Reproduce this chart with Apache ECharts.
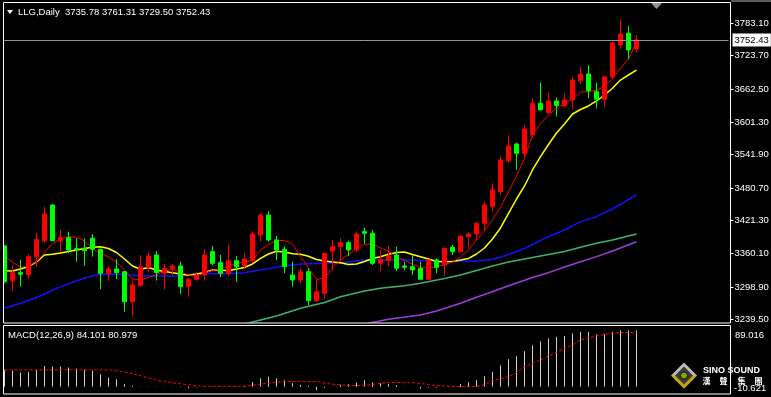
<!DOCTYPE html>
<html>
<head>
<meta charset="utf-8">
<script src="https://cdn.jsdelivr.net/npm/echarts@6/dist/echarts.min.js"></script>
<style>
html, body { margin: 0; padding: 0; background: #000; }
#chart { width: 771px; height: 397px; }
</style>
</head>
<body>
<div id="chart"></div>
<script>
var symbolName = 'LLG,Daily';

// daily bars, oldest first
var opens = [3374.2, 3310.4, 3325.1, 3320.9, 3354.5, 3383.8, 3449.4, 3383.3, 3389.4, 3369.1,
  3369.9, 3388.3, 3368.1, 3324.0, 3331.9, 3326.9, 3271.8, 3301.2, 3335.0, 3357.6,
  3324.0, 3333.2, 3337.4, 3299.4, 3312.9, 3320.9, 3363.6, 3343.5, 3324.0, 3347.1,
  3337.4, 3347.1, 3394.3, 3431.0, 3385.2, 3368.1, 3320.9, 3311.7, 3326.9, 3273.1,
  3287.2, 3365.0, 3372.8, 3380.3, 3366.8, 3400.4, 3397.4, 3342.3, 3347.1, 3357.6,
  3337.4, 3336.1, 3333.2, 3313.0, 3348.5, 3339.2, 3371.7, 3363.6, 3391.2, 3396.2,
  3415.8, 3446.3, 3473.9, 3530.8, 3561.4, 3544.3, 3577.9, 3636.2, 3618.9, 3640.4,
  3631.8, 3642.2, 3677.7, 3690.0, 3657.5, 3643.5, 3685.0, 3743.2, 3764.7, 3735.78];
var closes = [3308.5, 3325.1, 3322.2, 3354.5, 3386.4, 3432.9, 3383.8, 3389.4, 3366.8, 3366.8,
  3365.5, 3368.1, 3324.0, 3331.9, 3325.1, 3271.8, 3302.5, 3336.1, 3355.8, 3325.1,
  3333.2, 3337.4, 3299.4, 3313.0, 3320.9, 3357.6, 3342.3, 3324.0, 3347.1, 3336.1,
  3350.2, 3396.2, 3431.0, 3385.2, 3366.8, 3336.1, 3311.7, 3326.9, 3273.7, 3290.2,
  3360.7, 3372.8, 3380.3, 3366.8, 3396.2, 3397.4, 3342.3, 3349.7, 3355.8, 3333.2,
  3335.0, 3330.1, 3313.0, 3348.5, 3335.0, 3369.9, 3363.6, 3392.5, 3396.2, 3415.8,
  3449.4, 3477.0, 3532.1, 3557.8, 3544.3, 3589.0, 3636.2, 3623.9, 3640.4, 3631.8,
  3642.2, 3679.0, 3690.0, 3659.3, 3643.5, 3684.7, 3747.5, 3763.4, 3734.1, 3752.43];
var lows = [3306.0, 3292.0, 3299.4, 3312.9, 3336.1, 3379.1, 3383.0, 3363.6, 3360.7, 3345.3,
  3337.4, 3354.5, 3294.6, 3310.4, 3312.9, 3253.4, 3245.6, 3300.5, 3326.9, 3310.4,
  3294.6, 3320.8, 3285.9, 3281.0, 3310.4, 3310.4, 3339.2, 3316.6, 3319.0, 3308.5,
  3333.2, 3343.5, 3382.0, 3382.0, 3348.5, 3324.0, 3299.4, 3305.6, 3265.7, 3273.0,
  3278.1, 3330.1, 3345.3, 3355.8, 3363.6, 3377.8, 3339.2, 3328.2, 3337.4, 3328.2,
  3330.1, 3320.9, 3312.5, 3311.7, 3324.0, 3319.0, 3357.6, 3363.2, 3371.7, 3385.2,
  3403.5, 3437.1, 3467.8, 3526.0, 3513.7, 3538.1, 3571.9, 3623.5, 3618.5, 3611.6,
  3628.8, 3625.2, 3671.6, 3645.4, 3627.0, 3629.5, 3682.1, 3735.4, 3717.0, 3729.50];
var highs = [3376.0, 3337.4, 3348.5, 3359.0, 3398.5, 3446.3, 3451.2, 3403.5, 3400.4, 3388.3,
  3388.3, 3396.2, 3368.5, 3336.1, 3349.7, 3327.5, 3310.4, 3357.6, 3363.6, 3364.9,
  3341.1, 3341.1, 3345.3, 3315.3, 3327.0, 3368.1, 3374.1, 3357.6, 3375.9, 3355.8,
  3361.8, 3401.7, 3434.2, 3438.4, 3392.5, 3372.8, 3345.3, 3333.2, 3333.2, 3311.7,
  3361.0, 3385.2, 3388.3, 3383.8, 3401.7, 3407.7, 3403.5, 3366.8, 3374.1, 3372.8,
  3345.3, 3357.6, 3345.3, 3349.0, 3351.5, 3370.2, 3375.9, 3392.8, 3400.4, 3418.8,
  3455.5, 3489.3, 3539.4, 3577.9, 3563.8, 3596.3, 3645.4, 3674.0, 3656.4, 3647.2,
  3654.5, 3685.0, 3703.5, 3706.5, 3674.0, 3685.0, 3749.3, 3790.4, 3778.1, 3761.31];

// moving averages
var maRed = [3354.5, 3345.0, 3335.0, 3337.4, 3345.3, 3362.0, 3379.1, 3386.4, 3391.2, 3390.1,
  3383.5, 3369.5, 3360.7, 3353.9, 3344.7, 3330.0, 3313.5, 3311.7, 3316.3, 3320.9,
  3328.2, 3331.3, 3326.4, 3320.9, 3319.0, 3324.5, 3329.1, 3331.9, 3338.3, 3341.1,
  3344.7, 3347.5, 3366.8, 3376.9, 3384.2, 3384.2, 3377.8, 3354.5, 3333.7, 3312.6,
  3315.3, 3333.7, 3348.4, 3358.5, 3369.9, 3376.9, 3377.8, 3370.4, 3364.4, 3354.5,
  3347.5, 3341.1, 3335.0, 3333.2, 3336.1, 3340.1, 3344.7, 3353.9, 3366.8, 3385.2,
  3401.7, 3421.9, 3445.7, 3473.3, 3502.7, 3535.7, 3577.9, 3599.4, 3614.7, 3627.6,
  3634.9, 3645.0, 3656.9, 3657.5, 3660.6, 3667.0, 3680.8, 3700.5, 3717.5, 3749.3];
var maYellow = [3328.8, 3328.2, 3331.9, 3336.5, 3344.7, 3357.6, 3358.9, 3361.2, 3364.0, 3366.8,
  3369.5, 3371.7, 3372.8, 3369.5, 3362.2, 3350.2, 3337.4, 3331.3, 3334.6, 3330.0,
  3327.3, 3325.1, 3322.7, 3320.3, 3322.7, 3325.4, 3330.0, 3330.0, 3328.8, 3331.9,
  3334.6, 3341.1, 3351.5, 3359.4, 3364.4, 3363.1, 3360.0, 3358.9, 3355.2, 3349.3,
  3346.6, 3344.7, 3343.4, 3340.1, 3341.1, 3345.7, 3351.2, 3354.5, 3358.9, 3362.2,
  3363.1, 3358.5, 3354.5, 3350.2, 3345.7, 3345.3, 3345.7, 3348.4, 3351.2, 3359.4,
  3370.4, 3386.9, 3407.2, 3433.8, 3460.4, 3484.3, 3513.7, 3538.1, 3560.5, 3581.6,
  3598.2, 3616.5, 3624.8, 3631.2, 3640.4, 3651.4, 3663.7, 3678.9, 3688.1, 3697.0];
// slower averages: [bar index, value]
var maBlue = [[0, 3259.7], [2, 3268.9], [4, 3279.5], [7, 3299.4], [10, 3315.3], [12, 3322.7],
  [15, 3321.8], [17, 3319.0], [22, 3319.0], [25, 3324.0], [27, 3322.7], [30, 3325.1],
  [32, 3330.0], [35, 3337.4], [37, 3341.1], [40, 3342.3], [42, 3343.4], [45, 3348.4],
  [50, 3348.4], [55, 3346.6], [59, 3346.6], [61, 3349.3], [63, 3358.5], [65, 3369.5],
  [68, 3391.6], [70, 3403.5], [72, 3418.8], [74, 3427.9], [76, 3442.0], [79, 3467.8]];
var maGreen = [[28, 3222.0], [30, 3230.8], [32, 3238.2], [34, 3245.6], [37, 3259.7], [40, 3270.4],
  [42, 3281.0], [45, 3291.5], [47, 3296.4], [50, 3301.2], [52, 3305.6], [55, 3314.4],
  [57, 3320.9], [59, 3329.1], [61, 3337.4], [63, 3344.7], [66, 3353.0], [68, 3358.5],
  [70, 3364.0], [72, 3371.7], [74, 3379.1], [76, 3385.1], [79, 3396.2]];
var maPurple = [[44, 3228.0], [48, 3239.5], [52, 3247.4], [54, 3254.7], [57, 3268.9], [59, 3279.9],
  [62, 3295.7], [64, 3306.2], [66, 3316.3], [68, 3325.1], [70, 3335.6], [72, 3345.3],
  [74, 3354.5], [76, 3364.9], [79, 3382.0]];

var priceTicks = [3783.10, 3723.70, 3662.50, 3601.30, 3541.90, 3480.70, 3421.30, 3360.10, 3298.90, 3239.50];
var lastPrice = 3752.43;

var macdHist = [25.3, 23.8, 21.3, 22.3, 25.3, 31.2, 30.2, 30.2, 28.8, 27.3,
  25.3, 23.8, 18.8, 13.9, 11.4, 4.0, 1.5, 0.6, 0.6, 0.4,
  0.6, 0.4, 0.6, -2.0, -0.6, 0.4, 0.4, 0.4, 0.4, 0.4,
  1.2, 7.4, 12.9, 14.9, 12.9, 9.9, 5.5, 3.0, 1.5, -4.5,
  -1.5, 0.3, 3.0, 4.0, 6.4, 9.9, 6.4, 5.5, 4.0, 2.5,
  0.5, 0.2, -2.5, -1.0, -1.0, 0.2, 0.5, 4.0, 6.9, 9.9,
  15.9, 22.3, 32.2, 41.1, 45.6, 53.0, 62.0, 67.9, 72.4, 74.4,
  75.8, 79.8, 81.8, 81.8, 77.8, 78.3, 81.8, 84.3, 84.3, 84.101];
var macdSignal = [25.3, 25.3, 25.3, 25.3, 25.3, 25.3, 25.3, 25.3, 25.3, 25.3,
  25.3, 25.3, 25.3, 25.0, 24.3, 22.0, 19.5, 16.4, 13.4, 10.4,
  7.9, 5.9, 4.5, 3.0, 1.5, 0.8, 0.8, 0.8, 0.8, 0.8,
  0.8, 2.5, 4.0, 5.4, 7.0, 7.9, 8.2, 8.2, 8.0, 7.9,
  5.4, 4.0, 3.0, 2.0, 2.0, 2.0, 3.5, 5.0, 6.4, 6.4,
  6.4, 6.4, 5.0, 3.5, 2.0, 1.0, 0.5, 0.5, 0.5, 0.5,
  3.5, 8.9, 12.0, 15.4, 21.3, 29.7, 35.0, 40.1, 46.0, 51.5,
  56.9, 62.4, 69.4, 72.6, 75.8, 78.0, 79.8, 80.8, 80.9, 80.979];
var macdTicks = [89.016, -10.621];

var logoName = 'SINO SOUND';
var logoChars = ['漢', '聲', '集', '團'];

var emptySlots = 11;
var font = 'Liberation Sans, Arial, sans-serif';

var cats = [];
for (var i = 0; i < opens.length + emptySlots; i++) cats.push('d' + i);

var candles = opens.map(function (o, i) {
  return [o, closes[i], lows[i], highs[i]];
});

var n = opens.length - 1;
var header = symbolName + '  ' + [opens[n], highs[n], lows[n], closes[n]].map(function (v) {
  return v.toFixed(2);
}).join(' ');
var macdTitle = 'MACD(12,26,9) ' + macdHist[n].toFixed(3) + ' ' + macdSignal[n].toFixed(3);

function maLine(data, color, width) {
  return {
    type: 'line', data: data, xAxisIndex: 0, yAxisIndex: 0,
    symbol: 'none', silent: true, z: 3,
    lineStyle: { color: color, width: width }
  };
}

var chart = echarts.init(document.getElementById('chart'));
chart.setOption({
  animation: false,
  backgroundColor: '#000',
  title: {
    text: header, left: 18, top: 7, padding: 0,
    textStyle: { color: '#fff', fontSize: 9.5, fontWeight: 'normal', fontFamily: font }
  },
  grid: [
    { left: 0.5, width: 728, top: 4, height: 318, containLabel: false, outerBoundsMode: 'none' },
    { left: 0.5, width: 728, top: 327, height: 67, containLabel: false, outerBoundsMode: 'none' }
  ],
  xAxis: [
    { type: 'category', data: cats, gridIndex: 0, boundaryGap: true, show: false },
    { type: 'category', data: cats, gridIndex: 1, boundaryGap: true, show: false }
  ],
  yAxis: [
    {
      type: 'value', gridIndex: 0, position: 'right', offset: 2,
      min: 3234.5, max: 3818.5,
      splitLine: { show: false },
      axisLine: { show: true, lineStyle: { color: '#fff', width: 1 } },
      axisTick: { show: true, length: 3, customValues: priceTicks, lineStyle: { color: '#fff' } },
      axisLabel: {
        customValues: priceTicks, color: '#fff', fontSize: 9.5, fontFamily: font, margin: 4,
        formatter: function (v) { return v.toFixed(2); }
      }
    },
    { type: 'value', gridIndex: 1, min: macdTicks[1], max: macdTicks[0], show: false, splitLine: { show: false } }
  ],
  series: [
    {
      type: 'candlestick', data: candles, xAxisIndex: 0, yAxisIndex: 0,
      barWidth: 5, z: 4,
      itemStyle: {
        color: '#ff0000', color0: '#00ff00',
        borderColor: '#ff0000', borderColor0: '#00ff00', borderWidth: 1
      },
      markLine: {
        silent: true, symbol: ['none', 'none'],
        lineStyle: { color: '#8a96a6', width: 1, type: 'solid' },
        label: {
          position: 'end', distance: 4, formatter: lastPrice.toFixed(2),
          backgroundColor: '#fff', color: '#000', fontSize: 9.5, fontFamily: font,
          padding: [2, 2, 1, 2]
        },
        data: [{ yAxis: lastPrice }]
      }
    },
    maLine(maPurple, '#9a3ee0', 1.5),
    maLine(maGreen, '#3cb371', 1.5),
    maLine(maBlue, '#1010ff', 1.5),
    maLine(maYellow, '#ffff00', 1.5),
    maLine(maRed, '#ff0000', 1),
    {
      type: 'bar', data: macdHist, xAxisIndex: 1, yAxisIndex: 1,
      barWidth: 1, silent: true, itemStyle: { color: '#d0d0d0' }
    },
    {
      type: 'line', data: macdSignal, xAxisIndex: 1, yAxisIndex: 1,
      symbol: 'none', silent: true,
      lineStyle: { color: '#ff0000', width: 1, type: [3, 2] }
    }
  ]
});

// MACD scale labels sit at the panel edges
var topY = chart.convertToPixel({ yAxisIndex: 1 }, macdTicks[0]);
var botY = chart.convertToPixel({ yAxisIndex: 1 }, macdTicks[1]);

var logoCharX = [706.5, 723.5, 741.5, 758.5];
var logoTexts = logoChars.map(function (c, i) {
  return {
    type: 'text', x: logoCharX[i], y: 381, z: 55,
    style: { text: c, fill: '#fff', fontSize: 8, fontWeight: 'bold', fontFamily: 'Noto Sans CJK TC', align: 'center', verticalAlign: 'middle' }
  };
});

chart.setOption({
  graphic: [
    { type: 'rect', shape: { x: 0, y: 0, width: 3, height: 397 }, style: { fill: '#000' }, z: 50 },
    { type: 'rect', shape: { x: 731, y: 0, width: 40, height: 2 }, style: { fill: '#5a5a5a' }, z: 50 },
    { type: 'rect', shape: { x: 3.5, y: 2.5, width: 727, height: 320.5 }, style: { fill: 'none', stroke: '#fff', lineWidth: 1 }, z: 51 },
    { type: 'rect', shape: { x: 3.5, y: 325.5, width: 727, height: 68.5 }, style: { fill: 'none', stroke: '#fff', lineWidth: 1 }, z: 51 },
    { type: 'polygon', shape: { points: [[7, 10], [13, 10], [10, 14]] }, style: { fill: '#fff' }, z: 52 },
    { type: 'polygon', shape: { points: [[651, 3], [662, 3], [656.5, 9]] }, style: { fill: '#8a94a0' }, z: 52 },
    {
      type: 'text', x: 8, y: 335, z: 52,
      style: { text: macdTitle, fill: '#fff', fontSize: 9.5, fontFamily: font, verticalAlign: 'middle' }
    },
    {
      type: 'text', x: 735, y: topY + 3, z: 52,
      style: { text: macdTicks[0].toFixed(3), fill: '#fff', fontSize: 9.5, fontFamily: font, verticalAlign: 'top' }
    },
    {
      type: 'text', x: 734, y: botY - 1, z: 52,
      style: { text: macdTicks[1].toFixed(3), fill: '#fff', fontSize: 9.5, fontFamily: font, verticalAlign: 'bottom' }
    },
    // SINO SOUND mark
    { type: 'polygon', shape: { points: [[684, 362.5], [697, 375.5], [684, 388.5], [671, 375.5]] }, style: { fill: '#bdbdbd' }, z: 53 },
    { type: 'polygon', shape: { points: [[697, 375.5], [684, 388.5], [671, 375.5], [675, 375.5], [684, 384.5], [693, 375.5]] }, style: { fill: '#c9a400' }, z: 54 },
    { type: 'polygon', shape: { points: [[684, 366.5], [693, 375.5], [684, 384.5], [675, 375.5]] }, style: { fill: '#3a3a3a' }, z: 54 },
    { type: 'circle', shape: { cx: 684, cy: 375.5, r: 3.5 }, style: { fill: '#7fa800', stroke: '#1a1a1a', lineWidth: 1 }, z: 55 },
    {
      type: 'text', x: 703, y: 370.5, z: 55,
      style: { text: logoName, fill: '#fff', fontSize: 9, fontWeight: 'bold', fontFamily: font, verticalAlign: 'middle' }
    }
  ].concat(logoTexts)
});
</script>
</body>
</html>
